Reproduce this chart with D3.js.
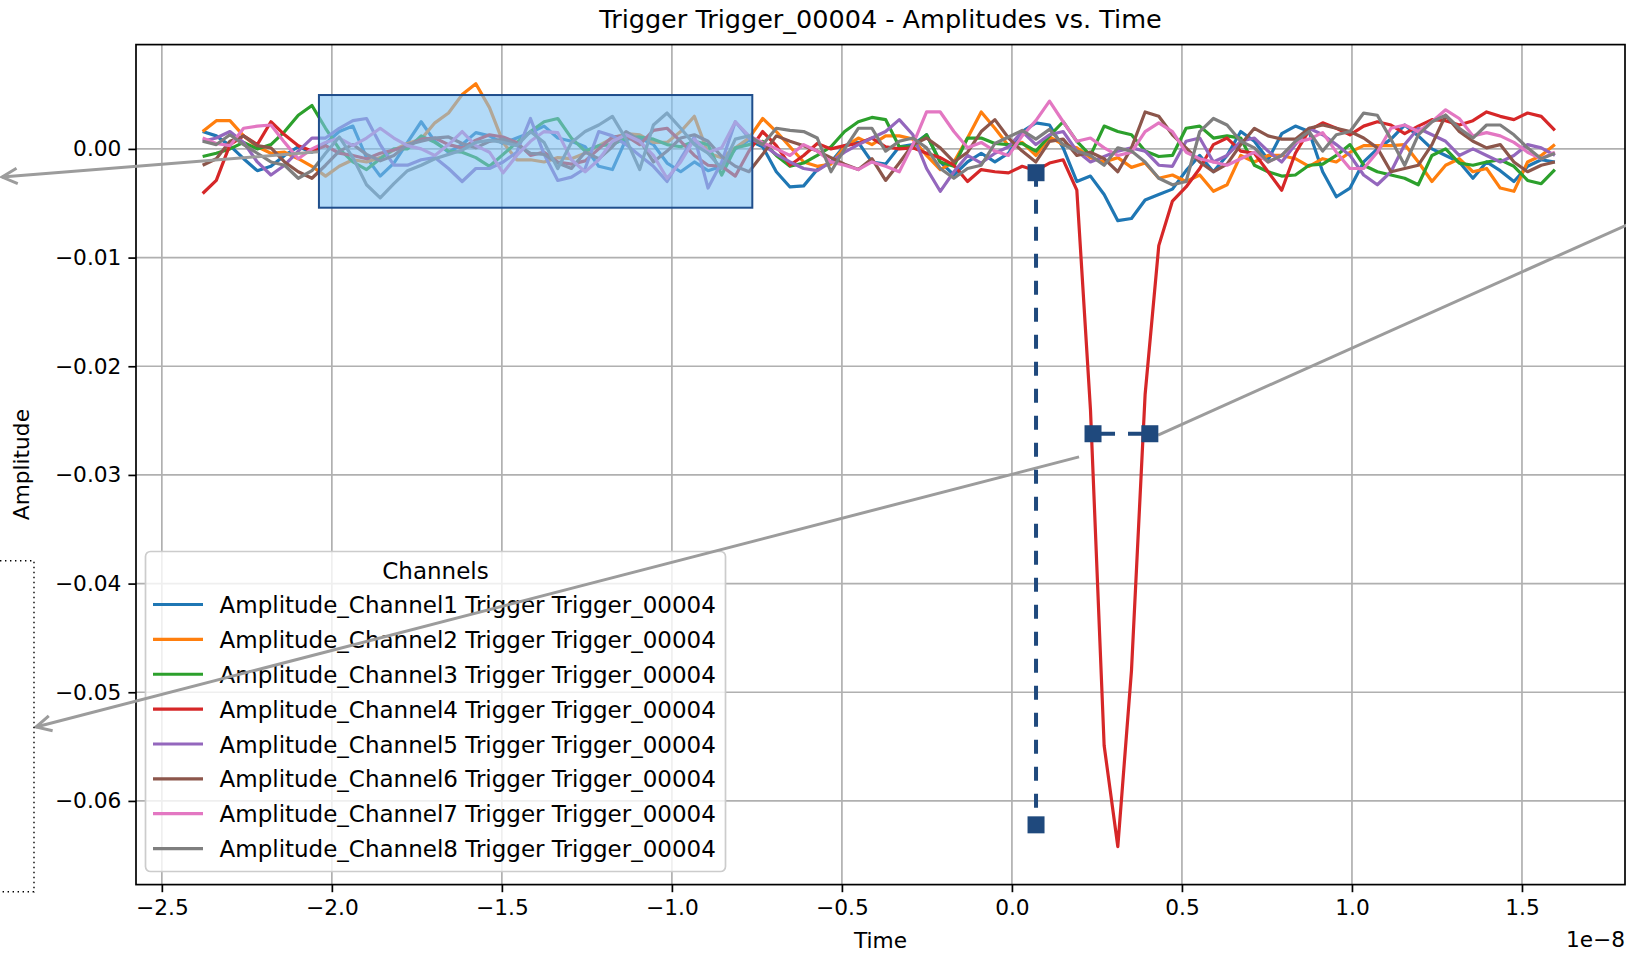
<!DOCTYPE html>
<html>
<head>
<meta charset="utf-8">
<script src="https://cdn.jsdelivr.net/npm/d3@7"></script>
<style>
  body { margin: 0; background: #ffffff; }
  svg { display: block; }
  text { font-family: "DejaVu Sans", sans-serif; fill: #000; }
</style>
</head>
<body>
<svg id="chart" width="1626" height="953"></svg>
<script>
// Sample times, in units of 1e-8 s
const time = [
  -2.3800,-2.3398,-2.2997,-2.2595,-2.2193,-2.1792,-2.1390,-2.0988,-2.0586,-2.0185,
  -1.9783,-1.9381,-1.8980,-1.8578,-1.8176,-1.7775,-1.7373,-1.6971,-1.6569,-1.6168,
  -1.5766,-1.5364,-1.4963,-1.4561,-1.4159,-1.3758,-1.3356,-1.2954,-1.2552,-1.2151,
  -1.1749,-1.1347,-1.0946,-1.0544,-1.0142,-0.9741,-0.9339,-0.8937,-0.8535,-0.8134,
  -0.7732,-0.7330,-0.6929,-0.6527,-0.6125,-0.5724,-0.5322,-0.4920,-0.4518,-0.4117,
  -0.3715,-0.3313,-0.2912,-0.2510,-0.2108,-0.1707,-0.1305,-0.0903,-0.0501,-0.0100,
   0.0302, 0.0704, 0.1105, 0.1507, 0.1909, 0.2310, 0.2712, 0.3114, 0.3516, 0.3917,
   0.4319, 0.4721, 0.5122, 0.5524, 0.5926, 0.6327, 0.6729, 0.7131, 0.7533, 0.7934,
   0.8336, 0.8738, 0.9139, 0.9541, 0.9943, 1.0344, 1.0746, 1.1148, 1.1550, 1.1951,
   1.2353, 1.2755, 1.3156, 1.3558, 1.3960, 1.4361, 1.4763, 1.5165, 1.5567, 1.5968
];

// Channel amplitudes, in mV
const ch1 = [
   1.6, 1.2, 0.3,-0.9,-2.0,-1.6,-0.6, 0.2,-0.3, 0.5,
   1.6, 2.1,-0.8,-2.5,-1.3, 0.6, 2.5, 0.7,-0.3, 0.4,
   1.5, 1.2, 0.5, 1.0, 1.5, 2.1, 1.0, 0.7, 0.2,-1.6,
  -1.9, 0.9, 1.0, 0.4,-1.3,-2.1,-1.2,-2.0,-1.6, 0.0,
   0.8, 0.2,-2.1,-3.5,-3.4,-1.9,-1.2, 0.3, 0.6,-1.2,
  -1.4, 0.2, 0.4, 1.3,-1.2,-2.4,-1.2,-0.4,-1.2,-0.4,
   1.6, 2.4, 2.2, 0.1,-3.0,-2.5,-4.2,-6.6,-6.4,-4.7,
  -4.2,-3.7,-2.0,-0.6,-2.1,-0.6, 1.6, 0.7,-1.0, 1.4,
   2.1, 1.6,-2.1,-4.4,-3.6,-1.2, 0.0, 0.9, 2.2, 1.2,
   0.0,-0.6,-1.2,-2.7,-1.2,-2.0,-3.0,-1.6,-1.0,-1.2
];
const ch2 = [
   1.6, 2.6, 2.6, 1.2, 0.2,-0.4,-0.3,-0.9,-1.6,-2.5,
  -1.6,-1.0,-1.2,-0.8,-0.1, 0.5, 0.9, 2.4, 3.3, 5.0,
   6.0, 3.8, 0.6,-1.0,-1.0,-1.2,-0.8,-0.9,-0.4, 0.3,
   1.0, 1.4, 1.3, 0.6, 0.6, 1.6, 3.0,-0.4,-0.8, 0.1,
   1.0, 2.8, 1.6, 0.2,-1.2,-1.6,-1.4, 0.2, 1.0, 0.4,
   1.2, 1.2, 0.9,-0.6,-1.9,-1.2, 1.0, 3.4, 1.9, 0.3,
   0.6,-0.6, 1.1, 0.4, 0.1,-0.8,-1.2,-0.8,-1.7,-1.3,
  -2.7,-2.4,-3.0,-2.4,-3.9,-3.3,-0.6,-1.2,-0.6,-0.6,
  -0.9,-1.6,-0.9,-1.2,-0.3, 0.3, 0.3, 0.3, 0.4,-1.2,
  -3.0,-1.5,-0.9,-2.1,-1.8,-3.6,-3.9,-1.2,-0.6, 0.4
];
const ch3 = [
  -0.7,-0.4, 0.0, 0.6, 0.0, 0.4, 1.6, 3.1, 4.0, 1.9,
   0.0,-1.2,-1.9,-0.9, 0.0, 0.0, 1.2, 0.6,-0.2,-0.3,
  -0.8,-1.6,-0.5, 0.6, 1.6, 2.5, 2.8, 1.0,-0.2, 0.3,
   0.4, 1.0, 1.1, 0.9, 0.4, 0.2, 0.7, 0.4,-2.4, 0.1,
   0.4, 0.7,-0.6,-1.6,-1.3,-0.6, 0.2, 1.6, 2.5, 2.9,
   2.7, 0.2, 0.2, 1.3,-1.2,-1.6, 1.0, 1.0, 0.5, 0.4,
   0.5,-0.2, 1.2, 2.5, 0.7,-0.6, 2.1, 1.6, 1.3,-0.2,
  -0.7,-0.6, 1.9, 2.1, 1.0, 1.2, 1.0,-1.5,-2.1,-2.5,
  -2.4,-1.5,-1.4,-0.6, 0.4,-1.5,-2.1,-2.4,-2.7,-3.3,
  -0.6, 0.0,-1.3,-1.5,-1.2,-1.0,-1.6,-2.9,-3.2,-1.9
];
const ch4 = [
  -4.1,-2.9, 0.4, 1.2, 0.4, 2.5, 1.3, 0.3,-0.2, 0.3,
  -0.4,-0.6,-0.9,-0.4,-0.1, 0.3, 0.9, 1.0, 0.4, 0.1,
   0.8, 1.3, 1.1, 0.6,-0.6,-0.3,-1.2,-1.4,-1.1, 0.0,
   1.1, 1.2, 0.4, 1.7, 1.9, 0.7,-0.6,-1.5,-1.6,-2.5,
  -0.2, 1.6, 0.3,-1.5,-0.6, 0.5, 0.0, 0.3, 0.5, 1.0,
   0.2, 0.0, 0.1,-0.4,-0.8,-1.5,-3.0,-1.9,-2.1,-2.2,
  -1.6,-2.0,-1.3,-1.0,-3.8,-24.0,-54.9,-64.2,-48.0,-22.6,
  -8.9,-4.8,-3.5,-1.8, 0.4, 1.0,-0.2,-0.4,-2.1,-3.8,
  -0.4, 1.7, 2.4, 1.9, 1.3, 2.1, 2.5, 2.2, 1.4, 2.1,
   2.7, 2.6, 2.2, 2.6, 3.4, 3.0, 2.7, 3.3, 3.0, 1.7
];
const ch5 = [
   0.7, 1.0, 1.6, 0.6,-1.2,-2.4,-1.5,-0.2, 1.0, 1.0,
   1.9, 2.6, 2.8, 0.4,-1.5,-1.5,-1.0,-0.8,-1.8,-3.0,
  -1.8,-1.8,-1.2,-0.3, 2.8,-0.5,-2.9,-2.6,-1.8, 1.6,
   1.2, 0.4,-0.6,-1.6,-3.0,-0.9, 1.1,-3.6,-1.2, 2.5,
   1.0, 0.4,-0.5,-1.2,-1.8,-2.0,-1.2,-0.3, 0.4, 1.0,
   1.6, 2.7, 1.3,-1.8,-3.9,-2.1,-0.6,-1.3,-0.4, 0.2,
   1.6, 0.4, 1.3, 1.6,-0.2,-1.2,-0.7,-0.2, 0.1,-0.2,
  -1.5,-1.6, 0.7, 1.0,-1.2,-0.6, 0.7, 1.0,-0.2,-1.2,
   0.4, 1.9, 1.3, 0.4,-0.6,-2.4,-3.3,-2.1, 0.4, 1.9,
   1.3, 0.7,-0.6, 0.0,-0.6,-1.2,-0.6, 0.4, 0.1,-0.6
];
const ch6 = [
  -1.5,-0.9, 0.7, 1.2, 0.3, 0.1,-1.2,-2.1,-2.7,-1.5,
  -0.2, 0.4,-0.5,-1.1,-0.6, 0.4, 0.7, 1.0, 1.1, 0.5,
   0.1, 0.7, 0.9, 0.4,-0.4,-0.5,-1.3,-1.8,-0.3,-0.9,
   0.2, 1.6, 0.8,-1.2,-0.2, 1.0, 1.3, 0.7,-0.7,-1.6,
  -2.1,-0.5, 1.2, 0.7, 0.3,-0.2,-0.8,-1.4,-1.9,-0.9,
  -2.9,-1.3, 0.4, 1.0, 0.1,-1.2,-0.3, 1.6, 2.7, 1.0,
  -0.2,-1.2, 0.7, 0.9,-0.6,-0.3,-0.9,-2.1, 0.1, 3.4,
   3.0, 1.3, 0.1,-1.2,-2.1,-1.4, 0.4, 1.9, 1.2, 0.9,
   0.9, 1.9, 2.2, 1.9, 1.6, 1.0, 0.1,-2.1,-1.8,-1.5,
   0.4, 3.1, 1.6, 0.7, 0.1, 0.4,-1.2,-2.1,-1.5,-1.2
];
const ch7 = [
   1.0, 0.5, 0.3, 1.9, 2.1, 2.2, 0.6,-0.9, 0.0, 0.6,
   1.0, 0.3, 1.0, 1.9, 1.0, 0.3, 0.0,-0.6, 0.4, 1.6,
   0.3,-0.3,-2.2,-0.6, 0.7, 1.6, 1.5,-1.0,-2.1,-1.0,
   0.7, 1.3, 0.7,-0.6,-2.7,-1.2, 0.9,-0.3, 0.1, 2.5,
   1.2, 0.6, 0.0,-0.6, 0.4,-0.2,-1.2,-1.5,-1.9,-1.2,
  -1.6,-2.1, 0.4, 3.4, 3.4, 1.6, 0.1, 0.6,-0.2,-0.6,
   1.2, 2.6, 4.4, 2.5, 0.7, 1.0, 0.1,-0.6,-0.3, 1.6,
   2.4, 1.6,-0.3,-0.9,-1.2,-1.5,-0.9,-0.3,-1.2,-0.6,
   0.6, 0.9, 1.5,-0.3,-1.8,-1.8,-0.3, 1.9, 2.2, 1.6,
   2.5, 3.6, 2.8, 1.2, 1.5, 1.2, 0.6,-0.3,-0.9,-0.3
];
const ch8 = [
   0.7, 0.4, 1.3, 0.4,-0.4,-1.2,-1.5,-2.7,-2.0,-0.4,
   1.1,-0.8,-3.3,-4.5,-3.2,-2.0,-1.5,-0.9,-0.5,-0.1,
   0.6, 0.8, 0.6, 0.3, 1.6, 0.6,-1.8, 0.6, 1.6, 2.2,
   3.0, 0.9,-1.9, 2.2, 3.3, 1.9, 0.4,-0.4,-1.8, 0.9,
   1.2, 0.4, 1.9, 1.7, 1.6, 1.0,-2.1, 0.0, 1.9, 1.9,
  -0.2, 0.7, 1.0, 0.1,-1.8,-2.7,-1.8,-1.5, 0.5, 1.1,
   1.7, 0.9, 1.8, 0.4,-0.2,-0.6,-1.5, 0.1,-0.2,-1.2,
  -2.7,-3.3,-3.0, 1.6, 2.8, 2.2, 0.7, 0.1,-1.2,-0.6,
   0.7, 1.6,-0.2, 1.3, 1.6, 3.3, 3.1, 0.9,-1.5, 1.3,
   2.5, 3.1, 1.9, 1.0, 2.2, 2.2, 1.3, 0.1,-0.9,-0.4
];

const seriesNames = [
  "Amplitude_Channel1 Trigger Trigger_00004",
  "Amplitude_Channel2 Trigger Trigger_00004",
  "Amplitude_Channel3 Trigger Trigger_00004",
  "Amplitude_Channel4 Trigger Trigger_00004",
  "Amplitude_Channel5 Trigger Trigger_00004",
  "Amplitude_Channel6 Trigger Trigger_00004",
  "Amplitude_Channel7 Trigger Trigger_00004",
  "Amplitude_Channel8 Trigger Trigger_00004"
];
const seriesColors = ["#1f77b4","#ff7f0e","#2ca02c","#d62728","#9467bd","#8c564b","#e377c2","#7f7f7f"];
const xTicks = [-2.5, -2.0, -1.5, -1.0, -0.5, 0.0, 0.5, 1.0, 1.5];
const yTicks = [0.00, -0.01, -0.02, -0.03, -0.04, -0.05, -0.06];

// Overlays, in data coordinates (time ×1e-8, amplitude)
const highlightBox = { t0: -2.038, t1: -0.7635, v0: -0.00541, v1: 0.00496 };
const verticalMarkers = { t: 0.0709, v0: -0.00219, v1: -0.0622 };
const horizontalMarkers = { t0: 0.2385, t1: 0.4056, v: -0.02621 };
const arrowLinks = [
  { from: [-2.040, -0.00026], to: [-2.970, -0.00259], head: true },
  { from: [0.1974, -0.02834], to: [-2.870, -0.0532], head: true },
  { from: [0.4297, -0.02633], to: [2.024, -0.00397], head: false }
];
const bracket = { t: -2.876, tEdge: -2.976, v0: -0.0379, v1: -0.06836 };

const channels = [ch1, ch2, ch3, ch4, ch5, ch6, ch7, ch8];

const svg = d3.select("#chart");
const plotL = 136, plotR = 1625, plotT = 44.6, plotB = 884.6;

const x = d3.scaleLinear().domain([-2.576, 1.803]).range([plotL, plotR]);
const y = d3.scaleLinear().domain([-0.0677, 0.0096]).range([plotB, plotT]);

svg.append("defs").append("clipPath").attr("id", "plotClip")
  .append("rect").attr("x", plotL).attr("y", plotT)
  .attr("width", plotR - plotL).attr("height", plotB - plotT);

// Grid
const grid = svg.append("g");
grid.selectAll(".gx").data(xTicks).join("line")
  .attr("x1", d => x(d)).attr("x2", d => x(d))
  .attr("y1", plotT).attr("y2", plotB)
  .attr("stroke", "#b0b0b0").attr("stroke-width", 1.7);
grid.selectAll(".gy").data(yTicks).join("line")
  .attr("x1", plotL).attr("x2", plotR)
  .attr("y1", d => y(d)).attr("y2", d => y(d))
  .attr("stroke", "#b0b0b0").attr("stroke-width", 1.7);

// Traces
const trace = d3.line()
  .x((d, i) => x(time[i]))
  .y(d => y(d * 1e-3));
const plot = svg.append("g").attr("clip-path", "url(#plotClip)");
channels.forEach((vals, k) => {
  plot.append("path")
    .datum(vals)
    .attr("d", trace)
    .attr("fill", "none")
    .attr("stroke", seriesColors[k])
    .attr("stroke-width", 3.2)
    .attr("stroke-linejoin", "round");
});

// Shaded window over the pre-trigger baseline
plot.append("rect")
  .attr("x", x(highlightBox.t0)).attr("y", y(highlightBox.v1))
  .attr("width", x(highlightBox.t1) - x(highlightBox.t0))
  .attr("height", y(highlightBox.v0) - y(highlightBox.v1))
  .attr("fill", "rgb(127,193,243)").attr("fill-opacity", 0.6)
  .attr("stroke", "#1f4e8c").attr("stroke-width", 2);

// Axes
const xAxis = d3.axisBottom(x).tickValues(xTicks).tickFormat(d3.format(".1f"))
  .tickSize(7.6).tickPadding(7);
const yAxis = d3.axisLeft(y).tickValues(yTicks).tickFormat(d3.format(".2f"))
  .tickSize(7.6).tickPadding(7);

const gx = svg.append("g").attr("transform", `translate(0,${plotB})`).call(xAxis);
const gy = svg.append("g").attr("transform", `translate(${plotL},0)`).call(yAxis);
[gx, gy].forEach(g => {
  g.select(".domain").remove();
  g.selectAll(".tick line").attr("stroke", "#000").attr("stroke-width", 1.7);
  g.selectAll(".tick text").attr("font-size", 21.7).attr("fill", "#000")
    .attr("font-family", "DejaVu Sans");
});

// Spines
svg.append("rect").attr("x", plotL).attr("y", plotT)
  .attr("width", plotR - plotL).attr("height", plotB - plotT)
  .attr("fill", "none").attr("stroke", "#000").attr("stroke-width", 1.7);

// Titles and labels
svg.append("text").attr("x", (plotL + plotR) / 2).attr("y", 28)
  .attr("text-anchor", "middle").attr("font-size", 25.5)
  .text("Trigger Trigger_00004 - Amplitudes vs. Time");
svg.append("text").attr("x", (plotL + plotR) / 2).attr("y", 948)
  .attr("text-anchor", "middle").attr("font-size", 21.7).text("Time");
svg.append("text").attr("transform", `translate(29,${(plotT + plotB) / 2}) rotate(-90)`)
  .attr("text-anchor", "middle").attr("font-size", 21.7).text("Amplitude");
svg.append("text").attr("x", plotR).attr("y", 947)
  .attr("text-anchor", "end").attr("font-size", 21.7).text("1e\u22128");

// Legend
const lg = svg.append("g");
lg.append("rect").attr("x", 145.5).attr("y", 551.5).attr("width", 580).attr("height", 320)
  .attr("rx", 5).attr("fill", "#ffffff").attr("fill-opacity", 0.8)
  .attr("stroke", "#cccccc").attr("stroke-width", 1.7);
lg.append("text").attr("x", 435.5).attr("y", 578.5).attr("text-anchor", "middle")
  .attr("font-size", 23).text("Channels");
seriesNames.forEach((name, k) => {
  const cy = 604.5 + k * 34.87;
  lg.append("line").attr("x1", 153).attr("x2", 203).attr("y1", cy).attr("y2", cy)
    .attr("stroke", seriesColors[k]).attr("stroke-width", 3.2);
  lg.append("text").attr("x", 219.5).attr("y", cy + 8.6).attr("font-size", 23).text(name);
});

// Markers and links
const navy = "#1f497d";
const ann = svg.append("g");
const arrowHead = (x1, y1, x2, y2) => {
  const a = Math.atan2(y1 - y2, x1 - x2), L = 17, w = 0.47;
  return `M${x2 + L * Math.cos(a + w)},${y2 + L * Math.sin(a + w)}L${x2},${y2}L${x2 + L * Math.cos(a - w)},${y2 + L * Math.sin(a - w)}`;
};
arrowLinks.forEach(l => {
  const x1 = x(l.from[0]), y1 = y(l.from[1]), x2 = x(l.to[0]), y2 = y(l.to[1]);
  ann.append("line").attr("x1", x1).attr("y1", y1).attr("x2", x2).attr("y2", y2)
    .attr("stroke", "#9c9c9c").attr("stroke-width", 3);
  if (l.head) {
    ann.append("path").attr("d", arrowHead(x1, y1, x2, y2)).attr("fill", "none")
      .attr("stroke", "#9c9c9c").attr("stroke-width", 3).attr("stroke-linejoin", "miter");
  }
});

ann.append("path")
  .attr("d", `M${x(bracket.tEdge)},${y(bracket.v0)}H${x(bracket.t)}V${y(bracket.v1)}H${x(bracket.tEdge)}`)
  .attr("fill", "none").attr("stroke", "#000").attr("stroke-width", 1.4)
  .attr("stroke-dasharray", "1.4,3.6");

ann.append("line")
  .attr("x1", x(verticalMarkers.t)).attr("x2", x(verticalMarkers.t))
  .attr("y1", y(verticalMarkers.v0)).attr("y2", y(verticalMarkers.v1))
  .attr("stroke", navy).attr("stroke-width", 4).attr("stroke-dasharray", "14,13");
ann.append("line")
  .attr("x1", x(horizontalMarkers.t0)).attr("x2", x(horizontalMarkers.t1))
  .attr("y1", y(horizontalMarkers.v)).attr("y2", y(horizontalMarkers.v))
  .attr("stroke", navy).attr("stroke-width", 4).attr("stroke-dasharray", "22,13");

const squares = [
  [verticalMarkers.t, verticalMarkers.v0], [verticalMarkers.t, verticalMarkers.v1],
  [horizontalMarkers.t0, horizontalMarkers.v], [horizontalMarkers.t1, horizontalMarkers.v]
];
ann.selectAll(".sq").data(squares).join("rect")
  .attr("x", d => x(d[0]) - 8.5).attr("y", d => y(d[1]) - 8.5)
  .attr("width", 17).attr("height", 17).attr("fill", navy);
</script>
</body>
</html>
